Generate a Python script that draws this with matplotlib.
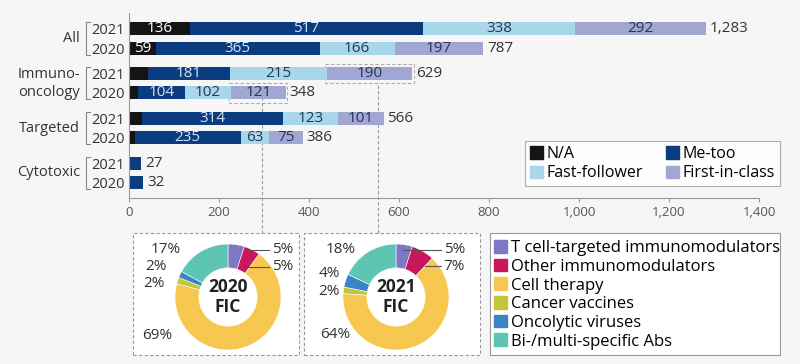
import numpy as np
import matplotlib
matplotlib.use("Agg")
from matplotlib import pyplot as plt
from matplotlib.patches import Rectangle, Patch

plt.rcParams['font.family'] = ['Open Sans', 'DejaVu Sans']

# bar data (top to bottom: group, then 2021 / 2020)
groups = ["All", "Immuno-\noncology", "Targeted", "Cytotoxic"]
years = ["2021", "2020"]
na = [[136, 59], [43, 21], [28, 13], [0, 0]]
me_too = [[517, 365], [181, 104], [314, 235], [27, 32]]
fast_follower = [[338, 166], [215, 102], [123, 63], [0, 0]]
first_in_class = [[292, 197], [190, 121], [101, 75], [0, 0]]

series_names = ["N/A", "Me-too", "Fast-follower", "First-in-class"]
series_colors = ["#141414", "#0c3c80", "#a9d7ea", "#a2a6d2"]
label_colors = ["white", "#d6e2f2", "#24365a", "#24365a"]

# donut data
pie_labels = ["T cell-targeted immunomodulators", "Other immunomodulators",
              "Cell therapy", "Cancer vaccines", "Oncolytic viruses",
              "Bi-/multi-specific Abs"]
pie_colors = ["#7d78c6", "#c8175c", "#f6c84f", "#c3c63a", "#3b84c6", "#5ec5b5"]
fic_2020 = [5, 5, 69, 2, 2, 17]
fic_2021 = [5, 7, 64, 2, 4, 18]

W, H = 800, 364
fig = plt.figure(figsize=(8, 3.64), dpi=100)
fig.patch.set_facecolor("#f6f6f6")


def fx(px):
    return px / W


def fy(py):
    return 1 - py / H


ax = fig.add_axes([fx(129), fy(198), fx(759) - fx(129), fy(13) - fy(198)])
ax.set_facecolor("none")

off = 0.215
bh = 0.29
ypos, ylabels = [], []
series = [na, me_too, fast_follower, first_in_class]
for g in range(len(groups)):
    for k, yr in enumerate(years):
        y = g + (-off if k == 0 else off)
        ypos.append(y)
        ylabels.append(yr)
        left = 0
        for s, vals in enumerate(series):
            v = vals[g][k]
            if v > 0:
                ax.barh(y, v, left=left, height=bh, color=series_colors[s], zorder=2)
                if v >= 50:
                    ax.text(left + v / 2, y, str(v), ha="center", va="center",
                            color=label_colors[s], fontsize=11, zorder=3)
            left += v
        ax.text(left + 8, y, f"{left:,}", ha="left", va="center",
                color="#333333", fontsize=11)

ax.set_xlim(0, 1400)
ax.set_ylim(3.56, -0.57)
ax.set_xticks(range(0, 1401, 200))
ax.set_xticklabels([f"{v:,}" for v in range(0, 1401, 200)], color="#555555", fontsize=9.5)
ax.set_yticks(ypos)
ax.set_yticklabels(ylabels, color="#333333", fontsize=10.5)
ax.tick_params(axis="y", length=0, pad=3)
ax.tick_params(axis="x", length=3, color="#999999", pad=3)
for sp in ["top", "right"]:
    ax.spines[sp].set_visible(False)
for sp in ["left", "bottom"]:
    ax.spines[sp].set_color("#999999")

# group labels and brackets
for g, name in enumerate(groups):
    ax.text((80 - 129) / 630, g, name, transform=ax.get_yaxis_transform(),
            ha="right", va="center", color="#333333", fontsize=10.5, linespacing=1.25)
    bx = (86 - 129) / 630
    bx2 = (90 - 129) / 630
    ax.plot([bx2, bx, bx, bx2], [g - 0.36, g - 0.36, g + 0.36, g + 0.36],
            transform=ax.get_yaxis_transform(), clip_on=False, color="#888888", lw=0.8)

# bar legend
order = [0, 2, 1, 3]
handles = [Patch(color=series_colors[i]) for i in order]
leg = ax.legend(handles, [series_names[i] for i in order], ncol=2, loc="lower left",
                bbox_to_anchor=((525 - 129) / 630, (198 - 186) / 185, 255 / 630, 48 / 185),
                mode="expand", fontsize=11.5, frameon=True, fancybox=False,
                handlelength=0.8, handleheight=0.8, handletextpad=0.25,
                labelspacing=0.2, borderaxespad=0, borderpad=0.3)
leg.get_frame().set_edgecolor("#999999")
leg.get_frame().set_facecolor("white")
leg.get_frame().set_linewidth(0.8)

# dashed highlight boxes around first-in-class segments of Immuno-oncology
for k in range(2):
    start = na[1][k] + me_too[1][k] + fast_follower[1][k]
    y = 1 + (-off if k == 0 else off)
    ax.add_patch(Rectangle((start - 4, y - bh / 2 - 0.07), first_in_class[1][k] + 8, bh + 0.14,
                           fill=False, ec="#aaaaaa", ls=(0, (3, 2)), lw=0.8, zorder=1))

# connector lines down to the donut boxes
for xd, ytop in [(295, 97), (553, 85)]:
    xf = fx(129 + xd * 0.45)
    ax.plot([xf, xf], [fy(ytop), fy(233)], transform=fig.transFigure, clip_on=False,
            color="#999999", lw=0.8, ls=(0, (3, 2)), zorder=1)

# bottom boxes
for (x0, x1, ls) in [(133, 299, (0, (3, 2))), (304, 480, (0, (3, 2))), (490, 780, "-")]:
    fig.patches.append(Rectangle((fx(x0), fy(355)), fx(x1) - fx(x0), fy(233) - fy(355),
                                 transform=fig.transFigure, facecolor="white",
                                 edgecolor="#999999", ls=ls, lw=0.8, zorder=-1))


def donut(cx, cy, vals, title, left_pos, right_pos):
    r = 53
    pa = fig.add_axes([fx(cx - 58), fy(cy + 58), 116 / W, 116 / H])
    pa.pie(vals, colors=pie_colors, startangle=90, counterclock=False, radius=1,
           wedgeprops=dict(width=0.45, edgecolor="white", linewidth=0.4))
    lim = 58 / r
    pa.set_xlim(-lim, lim)
    pa.set_ylim(-lim, lim)
    pa.set_aspect("equal")
    pa.axis("off")
    pa.text(0, 0, title, ha="center", va="center", fontsize=12.5, fontweight="bold",
            color="#222222", linespacing=1.1)
    for i, (x, y) in left_pos.items():
        pa.text(x, y, f"{vals[i]}%", ha="right", va="center", fontsize=11, color="#333333")
    for i, (x0, y, x1) in right_pos.items():
        pa.plot([x0, x1], [y, y], color="#555555", lw=0.8, clip_on=False)
        pa.text(x1 + 0.05, y, f"{vals[i]}%", ha="left", va="center", fontsize=11,
                color="#333333")


donut(228, 297, fic_2020, "2020\nFIC",
      {5: (-0.9, 0.89), 4: (-1.15, 0.58), 3: (-1.2, 0.26), 2: (-1.05, -0.72)},
      {0: (0.36, 0.89, 0.78), 1: (0.28, 0.57, 0.78)})
donut(396, 297, fic_2021, "2021\nFIC",
      {5: (-0.77, 0.89), 4: (-1.06, 0.45), 3: (-1.06, 0.1), 2: (-0.87, -0.7)},
      {0: (0.13, 0.89, 0.85), 1: (0.55, 0.58, 0.85)})

# donut legend
handles = [Patch(color=c) for c in pie_colors]
fig.legend(handles, pie_labels, loc="upper left", bbox_to_anchor=(fx(494), fy(240)),
           frameon=False, fontsize=12, handlelength=0.8, handleheight=0.8,
           handletextpad=0.2, labelspacing=0.15, borderaxespad=0, borderpad=0)

fig.savefig("out.png", dpi=100, facecolor=fig.get_facecolor())
